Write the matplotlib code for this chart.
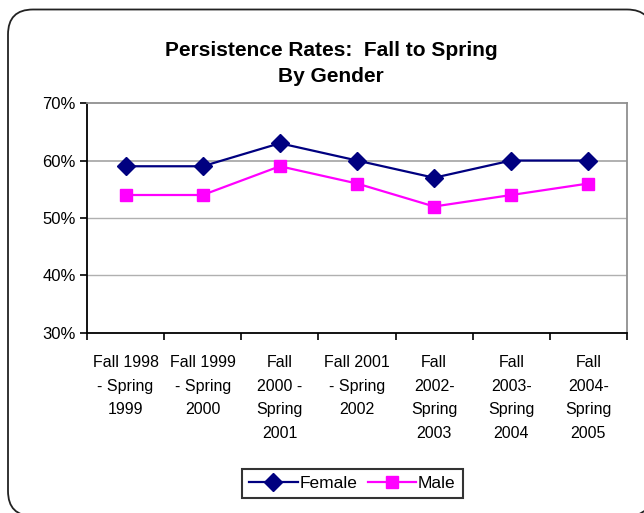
import matplotlib.pyplot as plt
from matplotlib.patches import FancyBboxPatch
from matplotlib.ticker import FixedLocator, FuncFormatter

plt.rcParams['font.family'] = ['Liberation Sans', 'DejaVu Sans']

terms = ['Fall 1998\n- Spring\n1999', 'Fall 1999\n- Spring\n2000', 'Fall\n2000 -\nSpring\n2001',
         'Fall 2001\n- Spring\n2002', 'Fall\n2002-\nSpring\n2003', 'Fall\n2003-\nSpring\n2004',
         'Fall\n2004-\nSpring\n2005']
female = [59, 59, 63, 60, 57, 60, 60]
male = [54, 54, 59, 56, 52, 54, 56]

fig = plt.figure(figsize=(6.44, 5.13), dpi=100)

# rounded outer frame like the Excel chart area (in inches, runs off the right edge)
frame = FancyBboxPatch((0.08, -0.03), 6.44, 5.065, boxstyle='round,pad=0,rounding_size=0.25',
                       transform=fig.dpi_scale_trans, facecolor='white', edgecolor='#222222',
                       linewidth=1.3, zorder=-5)
fig.patches.append(frame)

ax = fig.add_axes([0.1351, 0.3509, 0.8385, 0.4483])
ax.set_facecolor('none')
x = list(range(len(terms)))
ax.plot(x, female, color='#000080', marker='D', markersize=9, linewidth=1.6, label='Female', zorder=3)
ax.plot(x, male, color='#FF00FF', marker='s', markersize=8, linewidth=1.6, label='Male', zorder=3)

ax.set_xlim(-0.5, len(terms) - 0.5)
ax.set_ylim(30, 70)
ax.set_yticks([30, 40, 50, 60, 70])
ax.yaxis.set_major_formatter(FuncFormatter(lambda v, p: f'{v:.0f}%'))
for v in [40, 50, 60]:
    ax.axhline(v, color='#b0b0b0', linewidth=1.4 if v == 60 else 1.0, zorder=1)

ax.set_xticks(x)
ax.set_xticklabels(terms, fontsize=11.5, linespacing=1.72, va='top')
ax.xaxis.set_minor_locator(FixedLocator([i - 0.5 for i in range(len(terms) + 1)]))
ax.tick_params(axis='x', which='major', length=0, pad=16)
ax.tick_params(axis='x', which='minor', length=5, direction='out', width=1.2)
ax.tick_params(axis='y', length=5, width=1.2, labelsize=12, pad=3)

ax.spines['left'].set_linewidth(1.3)
ax.spines['bottom'].set_linewidth(1.3)
ax.spines['top'].set_color('#909090')
ax.spines['right'].set_color('#909090')
ax.spines['top'].set_linewidth(1.3)
ax.spines['right'].set_linewidth(1.3)

fig.text(0.514, 0.876, 'Persistence Rates:  Fall to Spring\nBy Gender', ha='center', va='center',
         fontsize=15, fontweight='bold', linespacing=1.5)

leg = fig.legend(loc='center', bbox_to_anchor=(0.547, 0.057), ncol=2, fontsize=12.5,
                 frameon=True, fancybox=False, edgecolor='black', handlelength=2.8,
                 columnspacing=0.6, handletextpad=0.1, borderpad=0.4)
leg.get_frame().set_linewidth(1.5)

fig.savefig('out.png', dpi=100)
